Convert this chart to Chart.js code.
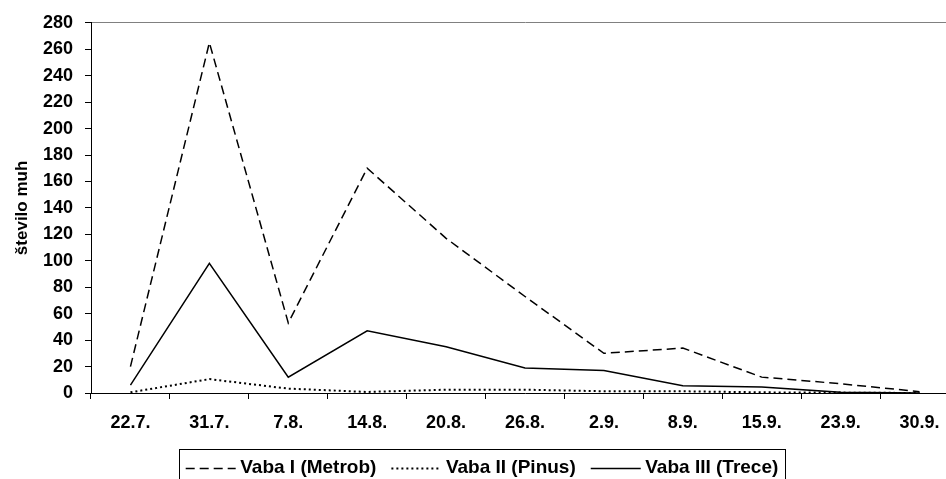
<!DOCTYPE html>
<html>
<head>
<meta charset="utf-8">
<script src="https://cdn.jsdelivr.net/npm/chart.js@4.4.0/dist/chart.umd.min.js"></script>
<style>
    html, body { margin: 0; padding: 0; background: #fff; overflow: hidden; }
    #wrap { width: 960px; height: 479px; }
</style>
</head>
<body>
<div id="wrap"><canvas id="muheChart" width="960" height="479"></canvas></div>
<script>
// dates of sampling
const labels = ['22.7.', '31.7.', '7.8.', '14.8.', '20.8.', '26.8.', '2.9.', '8.9.', '15.9.', '23.9.', '30.9.'];

// number of flies per trap
const metrob = [20, 265, 53, 170, 117, 73, 30, 34, 12, 7, 1];
const pinus = [0.5, 10.5, 3.3, 0.8, 2.5, 2.5, 1.3, 1.3, 0.5, 0.3, 0];
const trece = [6, 98, 12, 47, 35, 19, 17, 5.5, 4.5, 0.5, 0];

const yMin = 0, yMax = 280, yStep = 20;

const sampleW = 50;   // length of the line sample in the legend
const sampleShift = 5;

Chart.defaults.font.family = '"Liberation Sans", Arial, sans-serif';
Chart.defaults.font.weight = 'bold';
Chart.defaults.font.size = 18;
Chart.defaults.color = '#000';

// legend: frame + dashed line samples (chart.js draws point-style samples solid)
const legendFrame = {
    id: 'legendFrame',
    afterDraw(chart) {
        const boxes = chart.legend.legendHitBoxes;
        if (!boxes || !boxes.length) return;
        const ctx = chart.ctx;
        let l = Infinity, r = -Infinity, t = Infinity;
        ctx.save();
        ctx.strokeStyle = '#000';
        boxes.forEach((b, i) => {
            l = Math.min(l, b.left);
            r = Math.max(r, b.left + b.width);
            t = Math.min(t, b.top);
            const ds = chart.data.datasets[i];
            const y = Math.round(b.top + b.height / 2) + 0.5;
            ctx.lineWidth = ds.borderWidth;
            ctx.setLineDash(ds.borderDash || []);
            ctx.beginPath();
            ctx.moveTo(b.left + sampleShift, y);
            ctx.lineTo(b.left + sampleShift + sampleW, y);
            ctx.stroke();
        });
        ctx.setLineDash([]);
        ctx.lineWidth = 1;
        ctx.strokeRect(Math.round(l + sampleShift - 7) + 0.5, Math.round(t - 9) + 0.5, Math.round(r - l + 8), 60);
        ctx.restore();
    }
};

const data = {
    labels: labels,
    datasets: [{
        label: 'Vaba I (Metrob)',
        data: metrob,
        borderColor: '#000',
        backgroundColor: '#000',
        borderWidth: 1.5,
        borderDash: [9, 5],
        pointRadius: 0,
        tension: 0
    }, {
        label: 'Vaba II (Pinus)',
        data: pinus,
        borderColor: '#000',
        backgroundColor: '#000',
        borderWidth: 2,
        borderDash: [2, 3],
        pointRadius: 0,
        tension: 0
    }, {
        label: 'Vaba III (Trece)',
        data: trece,
        borderColor: '#000',
        backgroundColor: '#000',
        borderWidth: 1.5,
        pointRadius: 0,
        tension: 0
    }]
};

const config = {
    type: 'line',
    data: data,
    plugins: [legendFrame],
    options: {
        responsive: false,
        animation: false,
        layout: {
            padding: { left: 0, top: 20, right: 1, bottom: -8 }
        },
        scales: {
            x: {
                offset: true,
                grid: {
                    offset: true,
                    drawOnChartArea: false,
                    drawTicks: true,
                    tickLength: 6,
                    tickColor: '#000'
                },
                border: { display: true, color: '#000', width: 1 },
                ticks: {
                    padding: 13,
                    autoSkip: false,
                    maxRotation: 0,
                    font: { size: 18, weight: 'bold' }
                },
                afterFit: function (scale) {
                    scale.height = 55;
                }
            },
            y: {
                min: yMin,
                max: yMax,
                grid: {
                    color: function (c) {
                        return c.tick && c.tick.value === yMax ? '#808080' : 'rgba(0,0,0,0)';
                    },
                    tickColor: '#000',
                    tickLength: 6
                },
                border: { display: true, color: '#000', width: 1 },
                ticks: {
                    stepSize: yStep,
                    padding: 12,
                    font: { size: 18, weight: 'bold' }
                },
                title: {
                    display: true,
                    text: 'število muh',
                    font: { size: 17, weight: 'bold' },
                    padding: { top: 12, bottom: 0 }
                },
                afterFit: function (scale) {
                    scale.width = 91;
                }
            }
        },
        plugins: {
            legend: {
                position: 'bottom',
                labels: {
                    usePointStyle: true,
                    pointStyle: 'line',
                    pointStyleWidth: sampleW,
                    padding: 10,
                    color: '#000',
                    font: { size: 19, weight: 'bold' },
                    generateLabels: function (chart) {
                        const items = Chart.defaults.plugins.legend.labels.generateLabels(chart);
                        items.forEach(it => { it.strokeStyle = 'rgba(0,0,0,0)'; });
                        return items;
                    }
                }
            },
            tooltip: { enabled: false }
        }
    }
};

var muheChart = new Chart(
    document.getElementById('muheChart'),
    config
);
</script>
</body>
</html>
